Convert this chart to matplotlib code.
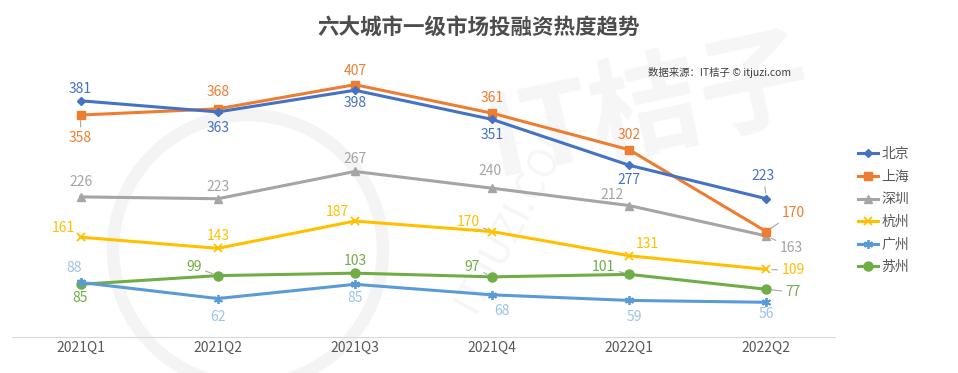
import numpy as np
import matplotlib.pyplot as plt
from matplotlib.patches import Circle

plt.rcParams['font.family'] = ['Noto Sans CJK SC', 'DejaVu Sans']

quarters = ['2021Q1', '2021Q2', '2021Q3', '2021Q4', '2022Q1', '2022Q2']
cities = ['北京', '上海', '深圳', '杭州', '广州', '苏州']
beijing = [381, 363, 398, 351, 277, 223]
shanghai = [358, 368, 407, 361, 302, 170]
shenzhen = [226, 223, 267, 240, 212, 163]
hangzhou = [161, 143, 187, 170, 131, 109]
guangzhou = [88, 62, 85, 68, 59, 56]
suzhou = [85, 99, 103, 97, 101, 77]
series = [beijing, shanghai, shenzhen, hangzhou, guangzhou, suzhou]

# 样式
colors = ['#4472C4', '#ED7D31', '#A5A5A5', '#FFC000', '#5B9BD5', '#70AD47']
label_colors = ['#4472C4', '#ED7D31', '#A5A5A5', '#FFC000', '#9DC3E6', '#70AD47']
markers = ['D', 's', '^', 'x', (6, 2, 0), 'o']
msizes = [4.5, 6, 5.5, 5.5, 6.5, 6.5]

# 数据标签偏移(像素)，1 表示带引导线
offsets = [
    [(0, 12, 0), (0, -16, 0), (0, -13, 0), (0, -16, 0), (0, -15, 0), (-3, 23, 1)],
    [(0, -23, 1), (0, 17, 0), (0, 14, 0), (0, 15, 0), (0, 15, 0), (27, 19, 1)],
    [(0, 15, 0), (0, 12, 0), (0, 12, 0), (-2, 17, 0), (-17, 11, 0), (25, -12, 1)],
    [(-17, 9, 0), (0, 12, 0), (-18, 9, 0), (-24, 10, 1), (18, 12, 0), (27, -1, 1)],
    [(-6, 14, 0), (0, -18, 0), (0, -14, 0), (10, -16, 0), (5, -17, 0), (0, -12, 0)],
    [(0, -14, 0), (-24, 9, 1), (0, 12, 0), (-20, 10, 1), (-26, 7, 1), (27, -3, 1)],
]

fig = plt.figure(figsize=(9.58, 3.73), dpi=100)

# 水印
ax_w = fig.add_axes([0, 0, 1, 1], zorder=-1)
ax_w.set_xlim(0, 958)
ax_w.set_ylim(373, 0)
ax_w.axis('off')
ax_w.add_patch(Circle((248, 250), 135, fill=False, lw=9, ec='#f4f4f4'))
ax_w.text(650, 110, 'IT桔子', fontsize=80, color='#f6f6f6', rotation=12,
          ha='center', va='center', fontweight='bold')
ax_w.text(515, 215, 'ITJUZI.COM', fontsize=28, color='#f6f6f6', rotation=62,
          ha='center', va='center')

ax = fig.add_axes([12 / 958, 36 / 373, 823 / 958, 279 / 373])
ax.patch.set_alpha(0)

x = np.arange(len(quarters))
for i, vals in enumerate(series):
    ax.plot(x, vals, color=colors[i], lw=2.2, marker=markers[i], ms=msizes[i],
            mew=1.3 if i in (3, 4) else 1, label=cities[i], zorder=3 + (5 - i))
    for j, v in enumerate(vals):
        dx, dy, lead = offsets[i][j]
        ax.annotate(str(v), (x[j], v), xytext=(dx, dy), textcoords='offset pixels',
                    ha='center', va='center', fontsize=10, color=label_colors[i],
                    arrowprops=dict(arrowstyle='-', color='#a6a6a6', lw=0.8,
                                    shrinkA=1, shrinkB=4) if lead else None,
                    zorder=10)

ax.set_xlim(-0.5, 5.5)
ax.set_ylim(0, 450)
ax.set_xticks(x)
ax.set_xticklabels(quarters)
ax.set_yticks([])
for s in ['top', 'right', 'left']:
    ax.spines[s].set_visible(False)
ax.spines['bottom'].set_color('#D9D9D9')
ax.tick_params(axis='x', length=0, pad=3, labelsize=10, labelcolor='#595959')

leg = ax.legend(loc='upper left', bbox_to_anchor=(834 / 823, 0.725), frameon=False,
                fontsize=10, handlelength=1.4, handletextpad=0.25,
                labelspacing=0.62)
for t in leg.get_texts():
    t.set_color('#595959')

fig.text(479 / 958, 1 - 28 / 373, '六大城市一级市场投融资热度趋势', ha='center', va='center',
         fontsize=15.5, color='#4d4d4d', fontweight='bold')
fig.text(720 / 958, 1 - 72 / 373, '数据来源：IT桔子 © itjuzi.com', ha='center', va='center',
         fontsize=7.5, color='#404040')

fig.savefig('out.png', dpi=100)
